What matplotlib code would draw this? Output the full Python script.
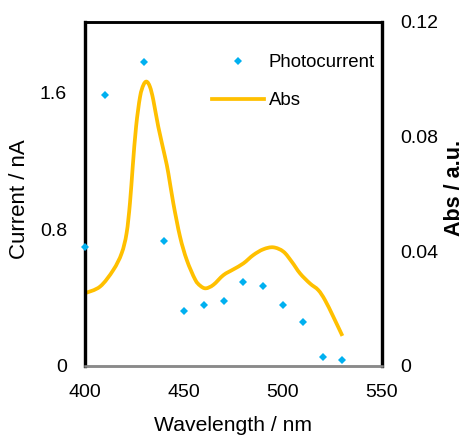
import matplotlib
matplotlib.use("Agg")
import numpy as np
import matplotlib.pyplot as plt
from matplotlib.lines import Line2D
from matplotlib.path import Path
from matplotlib.patches import PathPatch

plt.rcParams['font.family'] = ['Liberation Sans', 'DejaVu Sans']

# Photocurrent measured at each wavelength
pc_wavelength = [400, 410, 430, 440, 450, 460, 470, 480, 490, 500, 510, 520, 530]
pc_current = [0.70, 1.59, 1.78, 0.73, 0.32, 0.36, 0.38, 0.49, 0.47, 0.36, 0.26, 0.05, 0.035]

# Absorption spectrum
abs_wavelength = [400, 407.6, 414.3, 418.5, 421, 422.7, 424.1, 425.8, 427.8, 429.5,
                  431.1, 432.8, 434.5, 437, 440.4, 442.1, 444.6, 448, 451.4, 455.6,
                  458.2, 461, 464.8, 469.9, 474.9, 480, 485, 490, 495.1, 500.2, 504.4,
                  508.6, 513.6, 517.8, 521.2, 525.4, 530]
abs_value = [0.0254, 0.0277, 0.0335, 0.0393, 0.0463, 0.0568, 0.0695, 0.0835, 0.0939,
             0.098, 0.0992, 0.0974, 0.0928, 0.0835, 0.073, 0.0672, 0.0568, 0.0451,
             0.037, 0.0302, 0.0280, 0.0271, 0.0283, 0.0317, 0.0337, 0.0358, 0.0387,
             0.0407, 0.0414, 0.0399, 0.0364, 0.0323, 0.0288, 0.0265, 0.0230, 0.0172,
             0.0105]

x_ticks = [400, 450, 500, 550]
left_ticks = [0, 0.8, 1.6]
left_tick_labels = ['0', '0.8', '1.6']
right_ticks = [0, 0.04, 0.08, 0.12]
right_tick_labels = ['0', '0.04', '0.08', '0.12']


def smooth_path(x, y, tension=1.0):
    """Catmull-Rom curve through the points, as cubic Bezier segments."""
    p = np.column_stack([x, y]).astype(float)
    ext = np.vstack([p[0], p, p[-1]])
    verts = [p[0]]
    codes = [Path.MOVETO]
    for i in range(1, len(ext) - 2):
        p0, p1, p2, p3 = ext[i - 1], ext[i], ext[i + 1], ext[i + 2]
        c1 = p1 + (p2 - p0) * tension / 6
        c2 = p2 - (p3 - p1) * tension / 6
        verts += [c1, c2, p2]
        codes += [Path.CURVE4] * 3
    return Path(verts, codes)


W, H = 464, 436
fig = plt.figure(figsize=(W / 100, H / 100), dpi=100)
ax = fig.add_axes([85 / W, 1 - 366 / H, (382 - 85) / W, (366 - 22) / H])
ax2 = ax.twinx()

blue = '#00B0F0'
gold = '#FFC000'
line_w = 2.7

ax2.add_patch(PathPatch(smooth_path(abs_wavelength, abs_value), facecolor='none',
                        edgecolor=gold, lw=line_w, capstyle='butt', joinstyle='round',
                        zorder=2))
ax.plot(pc_wavelength, pc_current, ls='none', marker='D', ms=4.5, color=blue,
        markeredgewidth=0, clip_on=False, zorder=3)
ax.set_zorder(ax2.get_zorder() + 1)
ax.patch.set_visible(False)

ax.set_xlim(400, 550)
ax.set_ylim(0, 2.016)
ax2.set_ylim(0, 0.12)

fs = 14
ax.set_xticks(x_ticks)
ax.set_xticklabels([str(t) for t in x_ticks], fontsize=fs)
ax.set_yticks(left_ticks)
ax.set_yticklabels(left_tick_labels, fontsize=fs)
ax2.set_yticks(right_ticks)
ax2.set_yticklabels(right_tick_labels, fontsize=fs)
ax.tick_params(axis='x', length=0, pad=13)
ax.tick_params(axis='y', length=0, pad=13)
ax2.tick_params(axis='y', length=0, pad=13)

for a in (ax, ax2):
    a.spines['left'].set_linewidth(2.3)
    a.spines['left'].set_color('black')
    a.spines['right'].set_linewidth(2.3)
    a.spines['right'].set_color('black')
    a.spines['top'].set_linewidth(1.8)
    a.spines['top'].set_color('black')
    a.spines['bottom'].set_linewidth(1.8)
    a.spines['bottom'].set_color('#8a8a8a')

ax.set_xlabel('Wavelength / nm', fontsize=15.2)
ax.xaxis.set_label_coords(0.5, -0.145)
ax.set_ylabel('Current / nA', fontsize=16)
ax.yaxis.set_label_coords(-0.185, 0.485)
ax2.set_ylabel('Abs / a.u.', fontsize=15.5, fontweight='bold')
ax2.yaxis.set_label_coords(1.208, 0.517)

handles = [
    Line2D([], [], ls='none', marker='D', ms=4.5, color=blue, markeredgewidth=0),
    Line2D([], [], color=gold, lw=line_w),
]
fig.legend(handles, ['Photocurrent', 'Abs'], loc='upper left',
           bbox_to_anchor=(212 / W, 1 - 54 / H), frameon=False, fontsize=fs - 0.6,
           handlelength=2.8, handletextpad=0.25, labelspacing=1.13, borderpad=0,
           borderaxespad=0)

fig.savefig('out.png', dpi=100)
